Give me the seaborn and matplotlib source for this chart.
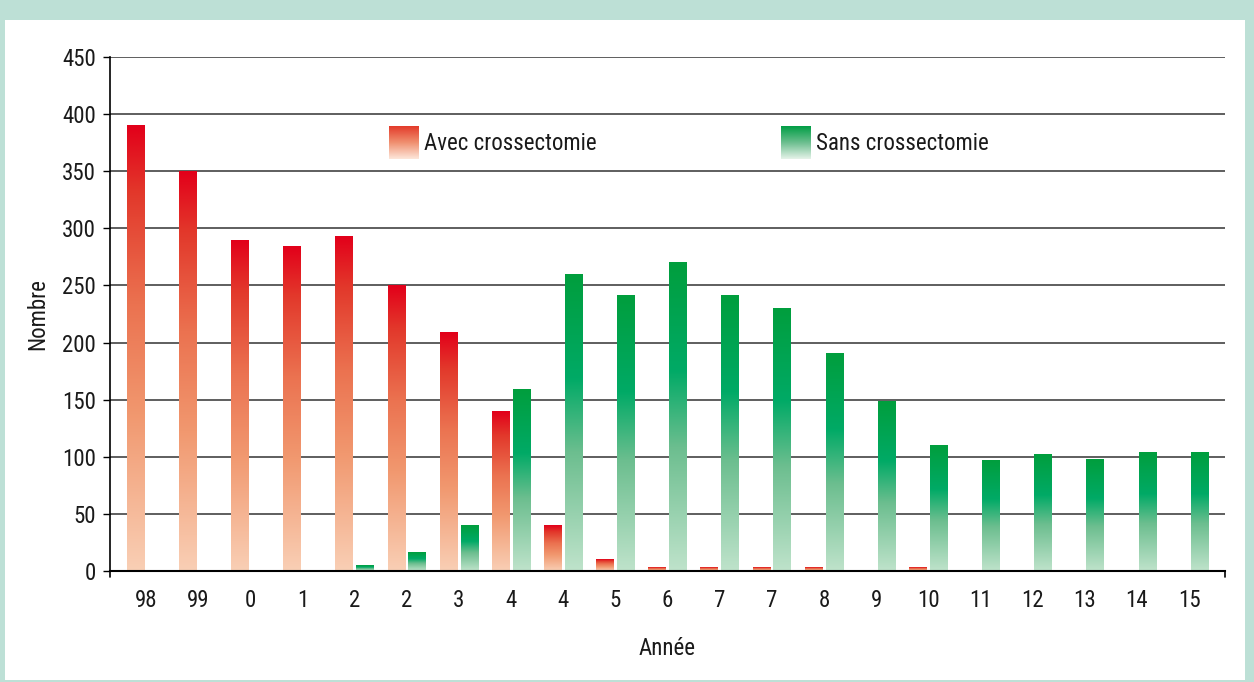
import numpy as np
import pandas as pd
import matplotlib
matplotlib.use('Agg')
import matplotlib.pyplot as plt
from matplotlib import font_manager
from matplotlib.colors import LinearSegmentedColormap
from matplotlib.patches import Rectangle
import seaborn as sns

# données
annees = ['98', '99', '0', '1', '2', '2', '3', '4', '4', '5', '6', '7', '7',
          '8', '9', '10', '11', '12', '13', '14', '15']
avec = [390, 350, 289, 284, 293, 250, 209, 140, 40, 10, 3, 3, 3, 3, 0, 3,
        0, 0, 0, 0, 0]
sans = [0, 0, 0, 0, 5, 16, 40, 159, 260, 241, 270, 241, 230, 190, 148, 110,
        97, 102, 98, 104, 104]
series = ['Avec crossectomie', 'Sans crossectomie']

df = pd.DataFrame({
    'pos': list(range(len(annees))) * 2,
    'Nombre': avec + sans,
    'serie': [series[0]] * len(annees) + [series[1]] * len(annees),
})

sns.set_style('white')
# police étroite si disponible
dispo = {f.name for f in font_manager.fontManager.ttflist}
police = 'Liberation Sans'
taille = 14
for nom in ['Liberation Sans Narrow', 'Roboto Condensed', 'Open Sans Condensed',
            'Noto Sans Condensed', 'DejaVu Sans Condensed']:
    if nom in dispo:
        police = nom
        taille = 16.5
        break
plt.rcParams['font.family'] = [police, 'DejaVu Sans']

# dégradés des barres (0 = bas, 1 = haut)
cmap_rouge = LinearSegmentedColormap.from_list('rouge', [
    (0.0, '#f9cfb5'), (0.35, '#f1986f'), (0.6, '#eb7250'),
    (0.85, '#e2382b'), (1.0, '#e2001a')])
cmap_vert = LinearSegmentedColormap.from_list('vert', [
    (0.0, '#bfe3cb'), (0.4, '#6cbe8f'), (0.65, '#00aa66'), (1.0, '#009e3d')])
cmap_leg_rouge = LinearSegmentedColormap.from_list('lr', ['#fde7db', '#f09070', '#e33a2a'])
cmap_leg_vert = LinearSegmentedColormap.from_list('lv', ['#e6f3e9', '#6cbe8f', '#009e45'])

fig = plt.figure(figsize=(12.54, 6.82), dpi=100, facecolor='#bde0d6')
fig.patches.append(Rectangle((5 / 1254, 2 / 682), 1240 / 1254, 660 / 682,
                             transform=fig.transFigure, facecolor='white',
                             edgecolor='none', zorder=-5))
ax = fig.add_axes([110 / 1254, 111 / 682, 1115 / 1254, 514 / 682])
ax.patch.set_alpha(0)

sns.barplot(data=df, x='pos', y='Nombre', hue='serie', hue_order=series,
            order=list(range(len(annees))), gap=0.16,
            palette=['#e2001a', '#009e3d'], legend=False, ax=ax, zorder=3)

grad = np.linspace(0, 1, 256).reshape(-1, 1)
n = len(annees)
for i, p in enumerate(ax.patches):
    h = p.get_height()
    if h > 0:
        cm = cmap_rouge if i < n else cmap_vert
        ax.imshow(grad, cmap=cm, origin='lower', aspect='auto', zorder=3,
                  extent=[p.get_x(), p.get_x() + p.get_width(), 0, h])
    p.set_visible(False)

ax.set_xlim(-0.69, 20.69)
ax.set_ylim(0, 450)
ax.set_yticks(range(0, 451, 50))
ax.set_xticks(range(n))
ax.set_xticklabels(annees)

ax.yaxis.grid(True, color='#333333', linewidth=1.1)
ax.set_axisbelow(True)
for s in ['top', 'right']:
    ax.spines[s].set_visible(False)
ax.spines['left'].set_color('black')
ax.spines['left'].set_linewidth(1.2)
ax.spines['bottom'].set_color('black')
ax.spines['bottom'].set_linewidth(1.5)
ax.spines['bottom'].set_zorder(4)
ax.tick_params(axis='y', direction='out', length=5, width=1, color='black',
               labelsize=taille, labelcolor='#1a1a1a', pad=5, left=True)
ax.tick_params(axis='x', length=0, labelsize=taille, labelcolor='#1a1a1a', pad=13)
# petits prolongements des axes sous la ligne du zéro
for xa in [0, 1]:
    ax.plot([xa, xa], [0, -0.012], transform=ax.transAxes, color='black',
            lw=1.2, clip_on=False)

ax.set_xlabel('Année', fontsize=taille, color='#1a1a1a', labelpad=18)
ax.set_ylabel('Nombre', fontsize=taille, color='#1a1a1a', labelpad=9)

# légende dessinée à la main (carrés en dégradé)
for (x0, cm, txt) in [(389, cmap_leg_rouge, series[0]), (781, cmap_leg_vert, series[1])]:
    lax = fig.add_axes([x0 / 1254, (682 - 159) / 682, 30 / 1254, 33 / 682])
    lax.imshow(grad, cmap=cm, origin='lower', aspect='auto')
    lax.set_axis_off()
    fig.text((x0 + 35) / 1254, (682 - 143) / 682, txt, fontsize=taille,
             color='#1a1a1a', va='center', ha='left')

fig.savefig('out.png', dpi=100, facecolor=fig.get_facecolor())
